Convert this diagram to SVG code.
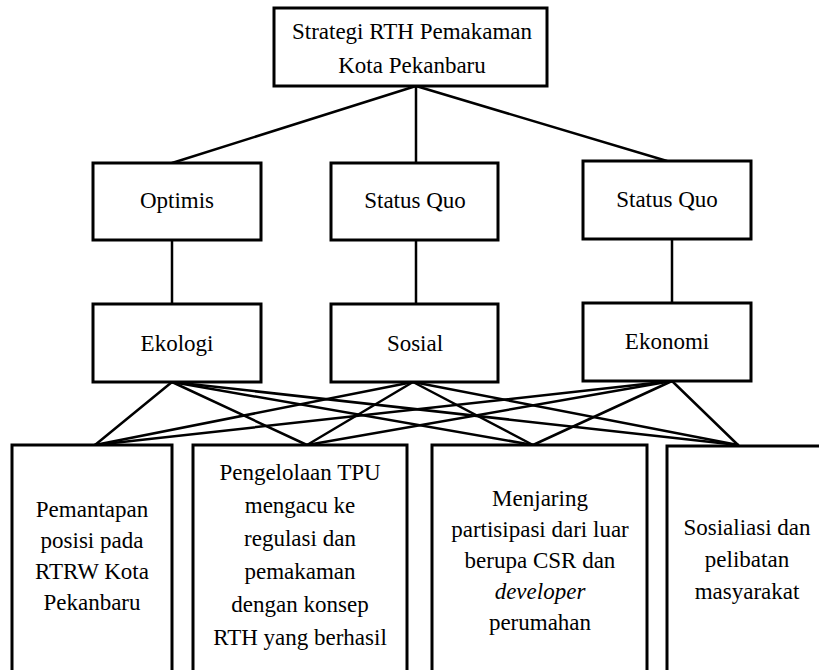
<svg xmlns="http://www.w3.org/2000/svg" width="819" height="670" viewBox="0 0 819 670">
<style>
.box{fill:#fff;stroke:#000;stroke-width:3}
.t{font-family:'Liberation Serif','Times New Roman',serif;font-size:23px;fill:#000;text-anchor:middle}
.i{font-style:italic}
.c{stroke:#000;stroke-width:2.5;fill:none;stroke-linecap:round}
</style>
<rect width="819" height="670" fill="#fff"/>
<g id="connectors">
<line class="c" x1="416" y1="86" x2="172" y2="163"/>
<line class="c" x1="416" y1="86" x2="416" y2="163"/>
<line class="c" x1="416" y1="86" x2="667" y2="161"/>
<line class="c" x1="172" y1="240" x2="172" y2="304"/>
<line class="c" x1="416" y1="240" x2="416" y2="304"/>
<line class="c" x1="672" y1="239" x2="672" y2="303"/>
<line class="c" x1="172" y1="382" x2="95" y2="445"/>
<line class="c" x1="172" y1="382" x2="307" y2="445"/>
<line class="c" x1="172" y1="382" x2="533" y2="445"/>
<line class="c" x1="172" y1="382" x2="738" y2="445"/>
<line class="c" x1="413" y1="382" x2="95" y2="445"/>
<line class="c" x1="413" y1="382" x2="307" y2="445"/>
<line class="c" x1="413" y1="382" x2="533" y2="445"/>
<line class="c" x1="413" y1="382" x2="738" y2="445"/>
<line class="c" x1="672" y1="381" x2="95" y2="445"/>
<line class="c" x1="672" y1="381" x2="307" y2="445"/>
<line class="c" x1="672" y1="381" x2="533" y2="445"/>
<line class="c" x1="672" y1="381" x2="738" y2="445"/>
</g>
<g id="root">
<rect class="box" x="274" y="8" width="273" height="78"/>
<text class="t" x="412" y="39">Strategi RTH Pemakaman</text>
<text class="t" x="412" y="73">Kota Pekanbaru</text>
</g>
<g id="optimis">
<rect class="box" x="93" y="163" width="168" height="77"/>
<text class="t" x="177" y="208">Optimis</text>
</g>
<g id="statusquo1">
<rect class="box" x="331" y="163" width="167" height="77"/>
<text class="t" x="415" y="208">Status Quo</text>
</g>
<g id="statusquo2">
<rect class="box" x="583" y="161" width="168" height="78"/>
<text class="t" x="667" y="207">Status Quo</text>
</g>
<g id="ekologi">
<rect class="box" x="93" y="304" width="168" height="78"/>
<text class="t" x="177" y="351">Ekologi</text>
</g>
<g id="sosial">
<rect class="box" x="331" y="304" width="167" height="78"/>
<text class="t" x="415" y="351">Sosial</text>
</g>
<g id="ekonomi">
<rect class="box" x="583" y="303" width="168" height="78"/>
<text class="t" x="667" y="349">Ekonomi</text>
</g>
<g id="s1">
<rect class="box" x="12" y="445" width="160" height="240"/>
<text class="t" x="92" y="517">Pemantapan</text>
<text class="t" x="92" y="548">posisi pada</text>
<text class="t" x="92" y="579">RTRW Kota</text>
<text class="t" x="92" y="610">Pekanbaru</text>
</g>
<g id="s2">
<rect class="box" x="193" y="445" width="214" height="240"/>
<text class="t" x="300" y="480">Pengelolaan TPU</text>
<text class="t" x="300" y="513">mengacu ke</text>
<text class="t" x="300" y="546">regulasi dan</text>
<text class="t" x="300" y="579">pemakaman</text>
<text class="t" x="300" y="612">dengan konsep</text>
<text class="t" x="300" y="645">RTH yang berhasil</text>
</g>
<g id="s3">
<rect class="box" x="432" y="445" width="215" height="240"/>
<text class="t" x="540" y="506">Menjaring</text>
<text class="t" x="540" y="537">partisipasi dari luar</text>
<text class="t" x="540" y="568">berupa CSR dan</text>
<text class="t i" x="540" y="599">developer</text>
<text class="t" x="540" y="630">perumahan</text>
</g>
<g id="s4">
<rect class="box" x="667" y="446" width="160" height="240"/>
<text class="t" x="747" y="535">Sosialiasi dan</text>
<text class="t" x="747" y="567">pelibatan</text>
<text class="t" x="747" y="599">masyarakat</text>
</g>
</svg>
